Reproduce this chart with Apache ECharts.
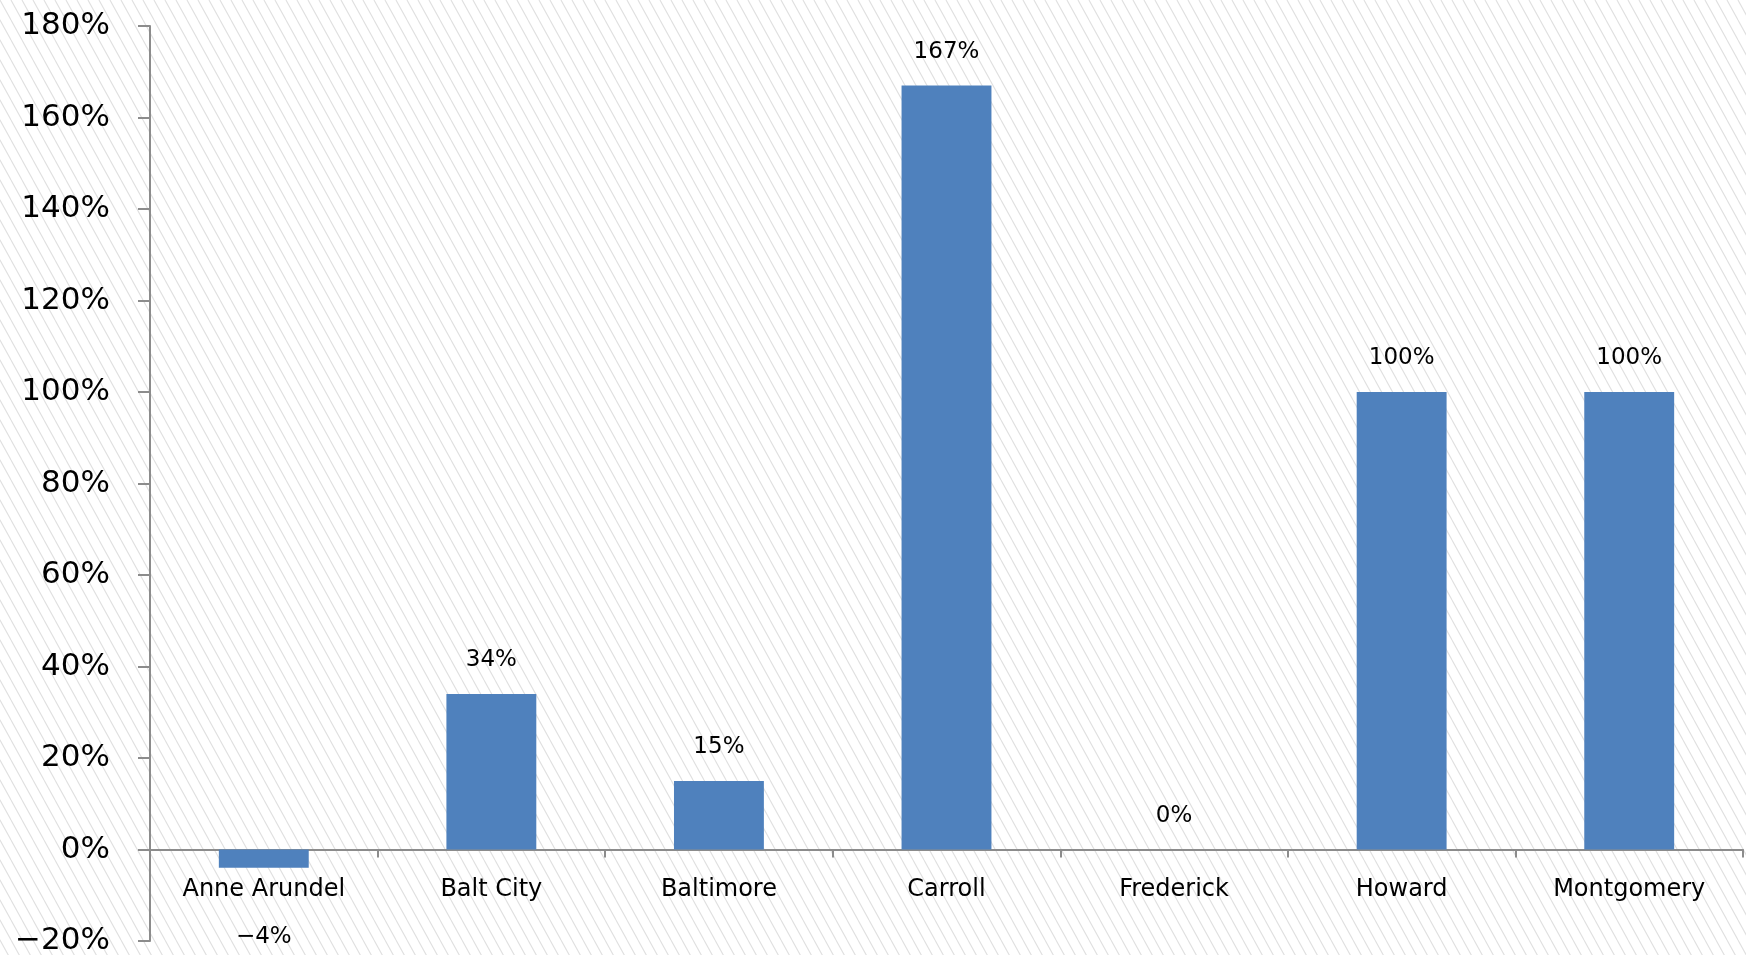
<!DOCTYPE html>
<html><head><meta charset="utf-8">
<script src="https://cdn.jsdelivr.net/npm/echarts@6/dist/echarts.min.js"></script>
<style>html,body{margin:0;padding:0;background:#fff}#c{width:1746px;height:955px}</style>
</head><body><div id="c"></div>
<script>
const categories = ['Anne Arundel','Balt City','Baltimore','Carroll','Frederick','Howard','Montgomery'];
const values = [-4, 34, 15, 167, 0, 100, 100];
const yMin = -20, yMax = 180, yStep = 20;

const TW = 11, TH = 20;
const pat = document.createElement('canvas');
pat.width = TW; pat.height = TH;
const g = pat.getContext('2d');
g.fillStyle = '#ffffff'; g.fillRect(0,0,TW,TH);
g.strokeStyle = '#e0e0e0'; g.lineWidth = 1.1;
g.beginPath();
for (const ox of [-TW, 0, TW]) { g.moveTo(ox, 0); g.lineTo(ox + TW, TH); }
g.stroke();

const fmt = v => (v < 0 ? '\u2212' + Math.abs(v) : v) + '%';

const chart = echarts.init(document.getElementById('c'));
chart.setOption({
  backgroundColor: {image: pat, repeat: 'repeat'},
  animation: false,
  grid: {left: 150, right: 3, top: 26, bottom: 14, containLabel: false, outerBoundsMode: 'none'},
  xAxis: {
    type: 'category', data: categories,
    axisLine: {onZero: true, lineStyle: {color: '#8c8c8c', width: 2}},
    axisTick: {show: true, length: 8, lineStyle: {color: '#8c8c8c', width: 2}},
    axisLabel: {color: '#000', fontFamily: 'DejaVu Sans', fontSize: 24, margin: -63}
  },
  yAxis: {
    type: 'value', min: yMin, max: yMax, interval: yStep,
    splitLine: {show: false},
    axisLine: {show: true, lineStyle: {color: '#8c8c8c', width: 2}},
    axisTick: {show: true, length: 12, lineStyle: {color: '#8c8c8c', width: 2}},
    axisLabel: {color: '#000', fontFamily: 'DejaVu Sans', fontSize: 31, margin: 40, formatter: fmt}
  },
  series: [{
    type: 'bar', barWidth: '39.5%',
    data: values.map(v => v < 0 ? {value: v, label: {position: 'bottom', distance: 58}} : v),
    itemStyle: {color: '#4f81bd'},
    label: {show: true, color: '#000', fontFamily: 'DejaVu Sans', fontSize: 23,
      position: 'top', distance: 22, formatter: p => fmt(p.value)}
  }]
});
</script></body></html>
